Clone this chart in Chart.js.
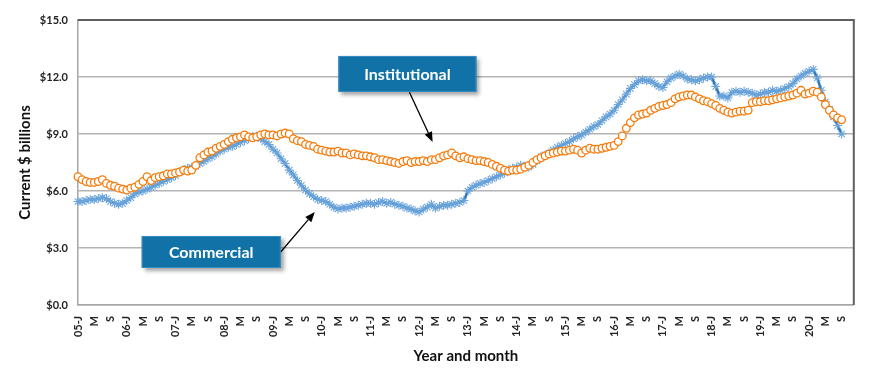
<!DOCTYPE html>
<html>
<head>
<meta charset="utf-8">
<script src="https://cdn.jsdelivr.net/npm/chart.js@4"></script>
<style>
  html, body { margin: 0; padding: 0; background: #fff; }
  #wrap { width: 870px; height: 374px; }
</style>
</head>
<body>
<div id="wrap"><canvas id="chart" width="870" height="374"></canvas></div>
<script>
// Years shown on the axis, and which month letters get a label
const years = ['05','06','07','08','09','10','11','12','13','14','15','16','17','18','19','20'];
const monthTicks = ['J','','','','M','','','','S','','',''];

// Institutional, Jan 2005 - Sep 2020 ($ billions)
const institutional = [
  6.75, 6.6, 6.5, 6.45, 6.45, 6.5, 6.6, 6.4, 6.3, 6.25, 6.15, 6.1,        // 2005
  6.05, 6.15, 6.2, 6.35, 6.5, 6.75, 6.55, 6.7, 6.75, 6.8, 6.9, 6.9,       // 2006
  6.95, 7.0, 7.1, 7.05, 7.1, 7.35, 7.75, 7.9, 8.05, 8.1, 8.25, 8.35,      // 2007
  8.45, 8.6, 8.72, 8.8, 8.85, 8.95, 8.85, 8.8, 8.85, 8.95, 9.0, 8.95,     // 2008
  8.95, 8.9, 9.0, 9.05, 9.0, 8.75, 8.65, 8.6, 8.45, 8.4, 8.35, 8.2,       // 2009
  8.15, 8.1, 8.05, 8.05, 8.1, 8.0, 8.0, 7.9, 7.95, 7.9, 7.85, 7.85,       // 2010
  7.8, 7.75, 7.65, 7.65, 7.6, 7.55, 7.5, 7.45, 7.55, 7.6, 7.5, 7.55,      // 2011
  7.55, 7.6, 7.55, 7.65, 7.65, 7.75, 7.85, 7.9, 8.0, 7.85, 7.75, 7.8,     // 2012
  7.7, 7.65, 7.6, 7.6, 7.55, 7.5, 7.4, 7.3, 7.2, 7.1, 7.05, 7.1,          // 2013
  7.1, 7.15, 7.25, 7.35, 7.5, 7.65, 7.75, 7.85, 7.95, 8.0, 8.05, 8.1,     // 2014
  8.1, 8.15, 8.2, 8.15, 8.0, 8.15, 8.25, 8.2, 8.2, 8.25, 8.3, 8.35,       // 2015
  8.4, 8.6, 8.9, 9.3, 9.6, 9.85, 10.0, 10.05, 10.1, 10.25, 10.35, 10.45,  // 2016
  10.5, 10.55, 10.65, 10.85, 10.95, 11.0, 11.05, 11.05, 10.95, 10.85, 10.75, 10.7, // 2017
  10.6, 10.5, 10.35, 10.25, 10.15, 10.1, 10.15, 10.2, 10.2, 10.25, 10.65, 10.7,    // 2018
  10.7, 10.75, 10.75, 10.8, 10.85, 10.9, 10.95, 11.0, 11.05, 11.15, 11.3, 11.1,    // 2019
  11.15, 11.25, 11.2, 10.95, 10.55, 10.25, 10.0, 9.85, 9.75                        // 2020
];

// Commercial, Jan 2005 - Sep 2020 ($ billions)
const commercial = [
  5.45, 5.45, 5.5, 5.55, 5.55, 5.6, 5.65, 5.6, 5.45, 5.35, 5.3, 5.35,     // 2005
  5.5, 5.65, 5.85, 5.95, 6.0, 6.1, 6.2, 6.3, 6.4, 6.5, 6.6, 6.7,          // 2006
  6.8, 7.0, 7.1, 7.2, 7.25, 7.3, 7.45, 7.55, 7.7, 7.8, 7.95, 8.1,         // 2007
  8.2, 8.3, 8.35, 8.45, 8.55, 8.65, 8.75, 8.85, 8.9, 8.75, 8.6, 8.45,     // 2008
  8.2, 8.0, 7.7, 7.45, 7.1, 6.85, 6.55, 6.3, 6.05, 5.85, 5.7, 5.55,       // 2009
  5.5, 5.45, 5.3, 5.15, 5.05, 5.1, 5.1, 5.15, 5.2, 5.25, 5.3, 5.35,       // 2010
  5.35, 5.3, 5.4, 5.45, 5.35, 5.4, 5.3, 5.25, 5.2, 5.1, 5.05, 4.95,       // 2011
  4.9, 5.05, 5.15, 5.3, 5.1, 5.2, 5.25, 5.25, 5.3, 5.35, 5.4, 5.5,        // 2012
  6.0, 6.2, 6.3, 6.4, 6.45, 6.55, 6.65, 6.75, 6.85, 6.95, 7.1, 7.2,       // 2013
  7.25, 7.35, 7.3, 7.25, 7.4, 7.6, 7.8, 7.9, 8.0, 8.15, 8.3, 8.4,         // 2014
  8.5, 8.6, 8.75, 8.85, 8.95, 9.1, 9.25, 9.4, 9.5, 9.7, 9.9, 10.05,       // 2015
  10.25, 10.55, 10.8, 11.1, 11.4, 11.6, 11.8, 11.85, 11.8, 11.8, 11.65, 11.5,     // 2016
  11.45, 11.75, 11.95, 12.05, 12.15, 12.05, 11.9, 11.85, 11.8, 11.85, 11.95, 12.0, // 2017
  12.0, 11.5, 11.0, 11.0, 10.9, 11.2, 11.25, 11.2, 11.25, 11.2, 11.15, 11.05,     // 2018
  11.1, 11.2, 11.2, 11.3, 11.25, 11.3, 11.4, 11.5, 11.65, 11.9, 12.05, 12.2,      // 2019
  12.3, 12.4, 11.95, 11.3, 10.7, 10.3, 9.9, 9.45, 9.0                             // 2020
];

// Callout boxes, anchored in data coordinates (month index, $ value)
const callouts = [
  { text: 'Institutional', at: [81.1, 12.16], w: 138, h: 36, from: [81.6, 11.2], to: [87.3, 8.58] },
  { text: 'Commercial',    at: [32.8, 2.79],  w: 139, h: 32, from: [49.9, 2.79], to: [58.3, 4.89] }
];

const months = [];
years.forEach(y => monthTicks.forEach((m, i) => months.push(i === 0 ? y + '-J' : m)));

const FONT = 'Lato, "DejaVu Sans", sans-serif';

const frame = {
  id: 'frame',
  afterDraw(chart) {
    const { ctx, chartArea: a } = chart;
    ctx.save();
    ctx.strokeStyle = '#5f5f5f';
    ctx.lineWidth = 2;
    ctx.beginPath();
    ctx.moveTo(a.left, a.top);
    ctx.lineTo(a.right, a.top);
    ctx.lineTo(a.right, a.bottom);
    ctx.stroke();
    ctx.restore();
  }
};

const calloutPlugin = {
  id: 'callouts',
  afterDraw(chart) {
    const { ctx } = chart;
    const xs = chart.scales.x, ys = chart.scales.y;
    const px = p => [xs.getPixelForValue(p[0]), ys.getPixelForValue(p[1])];
    callouts.forEach(c => {
      const [cx, cy] = px(c.at);
      const [fx, fy] = px(c.from);
      const [tx, ty] = px(c.to);
      ctx.save();
      // arrow
      ctx.strokeStyle = '#000';
      ctx.fillStyle = '#000';
      ctx.lineWidth = 1.3;
      const ang = Math.atan2(ty - fy, tx - fx);
      const hl = 10, hw = 4;
      ctx.beginPath();
      ctx.moveTo(fx, fy);
      ctx.lineTo(tx - Math.cos(ang) * hl, ty - Math.sin(ang) * hl);
      ctx.stroke();
      ctx.beginPath();
      ctx.moveTo(tx, ty);
      ctx.lineTo(tx - Math.cos(ang) * hl - Math.sin(ang) * hw, ty - Math.sin(ang) * hl + Math.cos(ang) * hw);
      ctx.lineTo(tx - Math.cos(ang) * hl + Math.sin(ang) * hw, ty - Math.sin(ang) * hl - Math.cos(ang) * hw);
      ctx.closePath();
      ctx.fill();
      // box with shadow
      ctx.shadowColor = 'rgba(0,0,0,0.35)';
      ctx.shadowOffsetX = 3;
      ctx.shadowOffsetY = 3;
      ctx.shadowBlur = 4;
      ctx.fillStyle = '#1172a7';
      ctx.fillRect(cx - c.w / 2, cy - c.h / 2, c.w, c.h);
      ctx.shadowColor = 'transparent';
      ctx.strokeStyle = '#3a8cc0';
      ctx.lineWidth = 1;
      ctx.strokeRect(cx - c.w / 2 + 0.5, cy - c.h / 2 + 0.5, c.w - 1, c.h - 1);
      ctx.fillStyle = '#fff';
      ctx.font = 'bold 16px ' + FONT;
      ctx.textAlign = 'center';
      ctx.textBaseline = 'middle';
      ctx.fillText(c.text, cx, cy + 1);
      ctx.restore();
    });
  }
};

new Chart(document.getElementById('chart'), {
  type: 'line',
  data: {
    labels: months,
    datasets: [
      {
        label: 'Institutional',
        data: institutional,
        showLine: false,
        pointStyle: 'circle',
        pointRadius: 3.8,
        pointBorderWidth: 1.3,
        pointBorderColor: '#f57c0c',
        pointBackgroundColor: '#ffffff',
        borderColor: '#f57c0c',
        order: 0
      },
      {
        label: 'Commercial',
        data: commercial,
        borderColor: '#2e75b6',
        borderWidth: 2.5,
        pointStyle: 'star',
        pointRadius: 4.5,
        pointBorderWidth: 1.1,
        pointBorderColor: '#6aa4db',
        pointBackgroundColor: '#6aa4db',
        tension: 0,
        order: 1
      }
    ]
  },
  options: {
    responsive: false,
    animation: false,
    layout: { padding: { top: 20, right: 15, left: 0, bottom: 0 } },
    plugins: { legend: { display: false }, tooltip: { enabled: false } },
    scales: {
      x: {
        offset: false,
        grid: { display: false },
        border: { display: true, color: '#a6a6a6', width: 1.5 },
        ticks: {
          autoSkip: false,
          minRotation: 90,
          maxRotation: 90,
          padding: 3,
          color: '#222',
          font: { family: FONT, size: 11, weight: 'bold' },
          callback: (v, i) => months[i]
        },
        title: {
          display: true,
          text: 'Year and month',
          color: '#111',
          font: { family: FONT, size: 15, weight: 'bold' },
          padding: { top: 0, bottom: 9 }
        },
        afterFit: s => { s.height = 69; }
      },
      y: {
        min: 0,
        max: 15,
        grid: { color: '#b4b4b4', lineWidth: 1.5, drawTicks: false },
        border: { display: true, color: '#a6a6a6', width: 1.5 },
        ticks: {
          stepSize: 3,
          padding: 10,
          color: '#222',
          font: { family: FONT, size: 11, weight: 'bold' },
          callback: v => '$' + v.toFixed(1)
        },
        title: {
          display: true,
          text: 'Current $ billions',
          color: '#111',
          font: { family: FONT, size: 15, weight: 'bold' },
          padding: { top: 16, bottom: 0 }
        },
        afterFit: s => { s.width = 78; }
      }
    }
  },
  plugins: [frame, calloutPlugin]
});
</script>
</body>
</html>
